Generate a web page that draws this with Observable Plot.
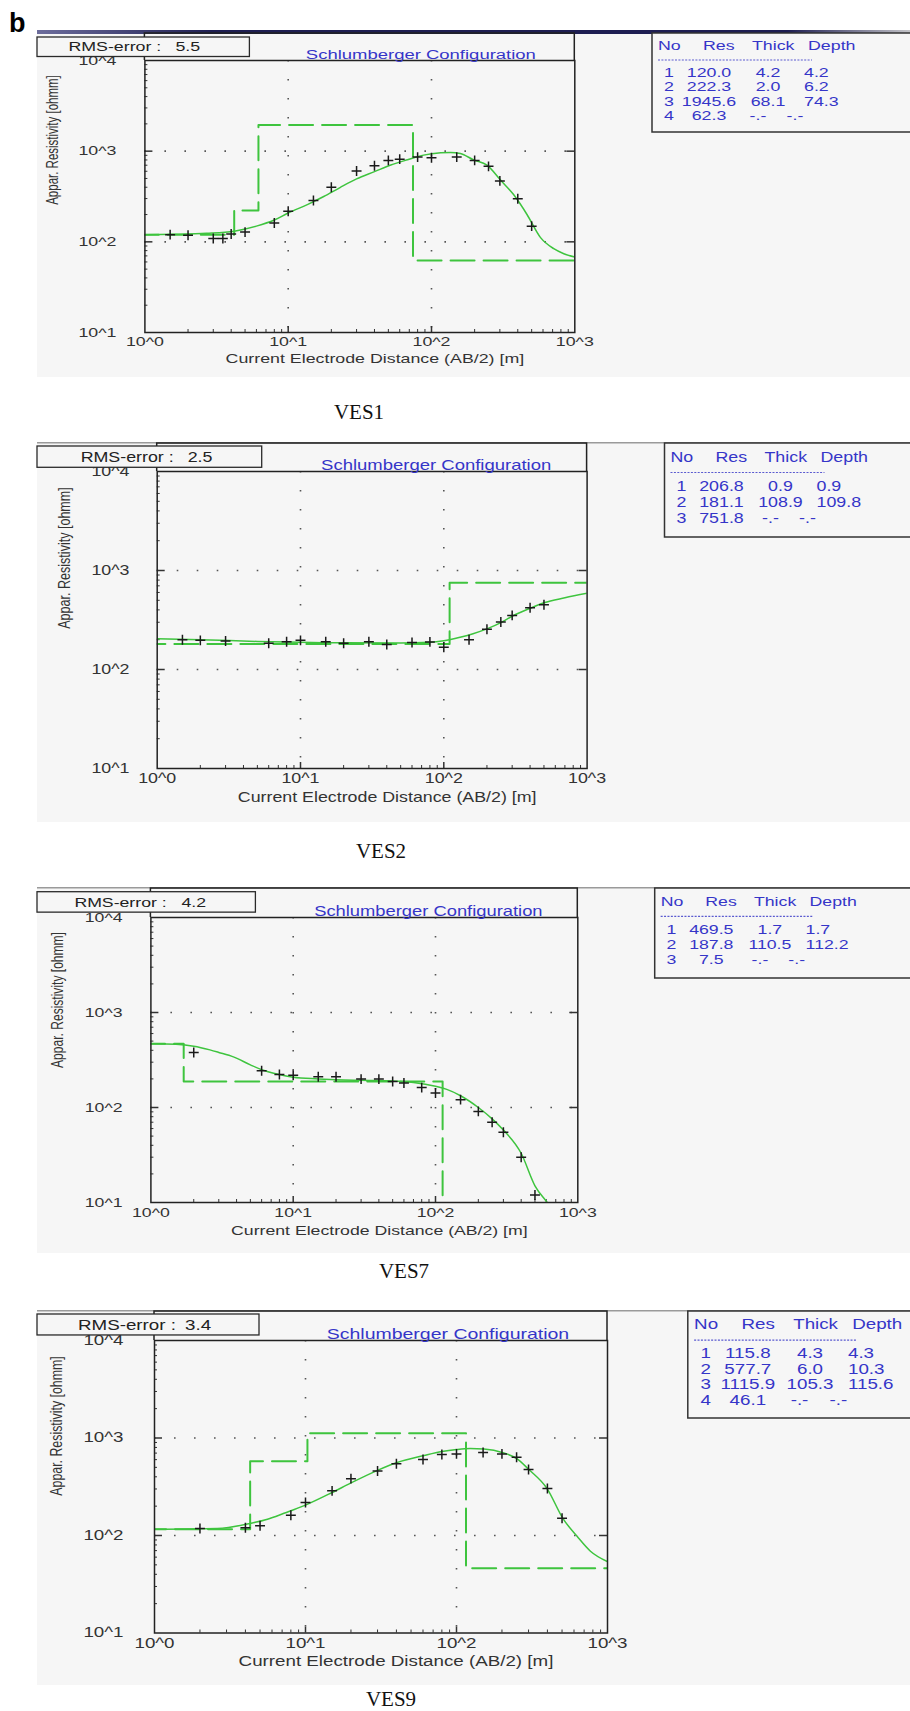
<!DOCTYPE html>
<html><head><meta charset="utf-8">
<script src="https://cdn.jsdelivr.net/npm/d3@7"></script>
<script src="https://cdn.jsdelivr.net/npm/@observablehq/plot@0.6"></script>
<style>
html,body{margin:0;padding:0;background:#fff;}
#page{position:relative;width:910px;height:1711px;overflow:hidden;font-family:"Liberation Sans",Arial,sans-serif;}
.layer{position:absolute;left:0;top:0;}
</style></head><body><div id="page"></div>
<script>
// ---------- shared labels ----------
const xTicks = [1, 10, 100, 1000];
const xTickLabels = ["10^0", "10^1", "10^2", "10^3"];
const yTicks = [10, 100, 1000, 10000];
const yTickLabels = ["10^1", "10^2", "10^3", "10^4"];
const xTitle = "Current Electrode Distance (AB/2) [m]";
const yTitle = "Appar. Resistivity [ohmm]";
const chartTitle = "Schlumberger Configuration";
const tableHeader = ["No", "Res", "Thick", "Depth"];
const figureLetter = "b";

// ---------- VES1 ----------
const ves1Name = "VES1";
const ves1Rms = "5.5";
const ves1Res = [120.0, 222.3, 1945.6, 62.3];
const ves1Thick = [4.2, 2.0, 68.1];
const ves1Depth = [4.2, 6.2, 74.3];
const ves1ObsX = [1.5, 2, 3, 3.5, 4, 5, 8, 10, 15, 20, 30, 40, 50, 60, 80, 100, 150, 200, 250, 300, 400, 500];
const ves1ObsY = [120, 118, 109, 109, 122, 128, 161, 217, 286, 400, 604, 690, 791, 817, 860, 845, 860, 791, 680, 470, 298, 149];
const ves1FitX = [1, 1.6, 2.7, 4.2, 6, 8, 10, 13.6, 17.7, 23, 30, 40, 52, 68, 88, 116, 136, 159, 197, 244, 303, 375, 465, 575, 713, 838, 1000];
const ves1FitY = [120, 121, 124, 131, 149, 174, 208, 257, 316, 397, 494, 594, 703, 804, 904, 959, 967, 942, 800, 700, 480, 330, 199, 112, 84, 74, 68];

// ---------- VES2 ----------
const ves2Name = "VES2";
const ves2Rms = "2.5";
const ves2Res = [206.8, 181.1, 751.8];
const ves2Thick = [0.9, 108.9];
const ves2Depth = [0.9, 109.8];
const ves2ObsX = [1.5, 2, 3, 6, 8, 10, 15, 20, 30, 40, 60, 80, 100, 150, 200, 250, 300, 400, 500];
const ves2ObsY = [200, 197, 194, 184, 191, 197, 191, 184, 191, 179, 187, 190, 168, 200, 255, 302, 352, 421, 451];
const ves2FitX = [1, 2, 5, 10, 20, 50, 80, 100, 130, 160, 200, 250, 300, 400, 500, 700, 1000];
const ves2FitY = [204, 200, 192, 188, 186, 185, 188, 195, 212, 230, 257, 297, 345, 415, 472, 530, 588];

// ---------- VES7 ----------
const ves7Name = "VES7";
const ves7Rms = "4.2";
const ves7Res = [469.5, 187.8, 7.5];
const ves7Thick = [1.7, 110.5];
const ves7Depth = [1.7, 112.2];
const ves7ObsX = [2, 6, 8, 10, 15, 20, 30, 40, 50, 60, 80, 100, 150, 200, 250, 300, 400, 500];
const ves7ObsY = [379, 244, 223, 219, 211, 211, 199, 199, 188, 181, 162, 142, 121, 91, 70, 55, 30, 12];
const ves7FitX = [1, 1.5, 2, 2.6, 3, 3.8, 5, 6, 8, 10, 15, 20, 30, 50, 70, 100, 120, 150, 200, 250, 300, 400, 500, 610, 680];
const ves7FitY = [468, 462, 442, 404, 380, 341, 281, 250, 222, 208, 200, 196, 193, 190, 183, 167, 155, 133, 100, 76, 58, 33, 15, 10, 8];

// ---------- VES9 ----------
const ves9Name = "VES9";
const ves9Rms = "3.4";
const ves9Res = [115.8, 577.7, 1115.9, 46.1];
const ves9Thick = [4.3, 6.0, 105.3];
const ves9Depth = [4.3, 10.3, 115.6];
const ves9ObsX = [2, 4, 5, 8, 10, 15, 20, 30, 40, 60, 80, 100, 150, 200, 250, 300, 400, 500];
const ves9ObsY = [118, 120, 126, 161, 218, 287, 383, 458, 545, 603, 678, 687, 709, 687, 635, 476, 303, 150];
const ves9FitX = [1, 2.6, 4.3, 5.6, 7.2, 10, 15, 20, 30, 40, 61, 80, 100, 123, 152, 206, 252, 301, 398, 506, 629, 771, 1000];
const ves9FitY = [116, 118, 133, 147, 169, 205, 276, 346, 466, 557, 661, 726, 761, 779, 773, 703, 611, 476, 303, 150, 98, 69, 54];

// ---------- layout (pixels) ----------
const layout = [
  {bgTop:31, bgBottom:377, outerTop:33, y4:60, y1:332, xL:144.4, xR:574.3, tabL:652, tabT:33, tabB:132, rmsTop:37, labelGap:28.4, ytx:52, yty:140, titleDx:61, vesX:359, vesY:419, bar:true},
  {bgTop:442, bgBottom:822, outerTop:443, y4:471, y1:768, xL:156.7, xR:586.6, tabL:664.5, tabT:443, tabB:537, rmsTop:446, labelGap:27.7, ytx:64, yty:558, titleDx:64, vesX:381, vesY:858},
  {bgTop:887, bgBottom:1253, outerTop:888, y4:917, y1:1202, xL:150.4, xR:577.3, tabL:654.7, tabT:888, tabB:978, rmsTop:891.7, labelGap:28.4, ytx:58, yty:1000, titleDx:64, vesX:404, vesY:1278},
  {bgTop:1310, bgBottom:1685, outerTop:1311, y4:1340, y1:1632.5, xL:154, xR:607, tabL:687.8, tabT:1311, tabB:1418, rmsTop:1314, labelGap:31, ytx:56, yty:1426, titleDx:67, vesX:391, vesY:1706}
];

const panels = [
  {name: ves1Name, rms: ves1Rms, res: ves1Res, thick: ves1Thick, depth: ves1Depth, obsX: ves1ObsX, obsY: ves1ObsY, fitX: ves1FitX, fitY: ves1FitY},
  {name: ves2Name, rms: ves2Rms, res: ves2Res, thick: ves2Thick, depth: ves2Depth, obsX: ves2ObsX, obsY: ves2ObsY, fitX: ves2FitX, fitY: ves2FitY},
  {name: ves7Name, rms: ves7Rms, res: ves7Res, thick: ves7Thick, depth: ves7Depth, obsX: ves7ObsX, obsY: ves7ObsY, fitX: ves7FitX, fitY: ves7FitY},
  {name: ves9Name, rms: ves9Rms, res: ves9Res, thick: ves9Thick, depth: ves9Depth, obsX: ves9ObsX, obsY: ves9ObsY, fitX: ves9FitX, fitY: ves9FitY}
];

const BG = "#f6f6f6";
const GREEN = "#3ec43e";
const BLUE = "#3535c8";
const FONT = "'Liberation Sans', Arial, sans-serif";

const yMinor = [];
[10, 100, 1000].forEach(d => { for (let k = 2; k <= 9; k++) yMinor.push(d * k); });
const xMinor = [];
[1, 10, 100].forEach(d => { for (let k = 2; k <= 9; k++) xMinor.push(d * k); });

function stretchTexts(root, st) {
  root.querySelectorAll("text").forEach(t => {
    if ((t.getAttribute("transform") || "").includes("rotate")) return;
    if (t.getAttribute("data-nostretch")) return;
    const L = t.getComputedTextLength();
    if (L > 0) {
      t.setAttribute("textLength", (L * st).toFixed(2));
      t.setAttribute("lengthAdjust", "spacingAndGlyphs");
    }
  });
}

const page = d3.select("#page");
const under = page.append("svg").attr("class", "layer").attr("width", 910).attr("height", 1711).style("z-index", 0);
const over = page.append("svg").attr("class", "layer").attr("width", 910).attr("height", 1711).style("z-index", 2).style("font-family", FONT);

const defs = under.append("defs");
const grad = defs.append("linearGradient").attr("id", "barGrad").attr("x1", "0").attr("x2", "1").attr("y1", "0").attr("y2", "0");
grad.append("stop").attr("offset", "0").attr("stop-color", "#6d6d9c");
grad.append("stop").attr("offset", "0.2").attr("stop-color", "#1e1e52");
grad.append("stop").attr("offset", "0.86").attr("stop-color", "#1e1e52");
grad.append("stop").attr("offset", "1").attr("stop-color", "#c4c4c8");

over.append("text").attr("x", 9).attr("y", 32).attr("font-size", 27).attr("font-weight", "bold")
  .attr("fill", "#000").attr("data-nostretch", 1).text(figureLetter);

panels.forEach((d, pi) => {
  const g = layout[pi];
  const decY = (g.y1 - g.y4) / 3;
  const decX = (g.xR - g.xL) / 3;
  const vs = decY / 90.67;
  const hx = decX / 143.3;
  const st = 1.37 * hx / vs;
  const fs = 13 * vs;

  under.append("rect").attr("x", 37).attr("y", g.bgTop).attr("width", 873).attr("height", g.bgBottom - g.bgTop).attr("fill", BG);
  if (g.bar) {
    under.append("rect").attr("x", 37).attr("y", g.bgTop - 1).attr("width", 873).attr("height", 4).attr("fill", "url(#barGrad)");
  } else {
    under.append("rect").attr("x", 37).attr("y", g.bgTop).attr("width", 873).attr("height", 1.5).attr("fill", "#9a9a9a");
  }

  const obs = d.obsX.map((x, i) => ({x, y: d.obsY[i]}));
  const fit = d.fitX.map((x, i) => ({x, y: d.fitY[i]}));
  const stepX = [0.5, ...d.depth, 3000];
  const stepY = [...d.res, d.res[d.res.length - 1]];
  const model = stepX.map((x, i) => ({x, y: stepY[i]}));

  const W = Math.round(g.xR + 45);
  const H = g.bgBottom - g.bgTop;
  const pw = g.xR - g.xL, ph = g.y1 - g.y4;

  const svg = Plot.plot({
    width: W, height: H,
    marginLeft: g.xL, marginRight: W - g.xR,
    marginTop: g.y4 - g.bgTop, marginBottom: g.bgBottom - g.y1,
    x: {type: "log", domain: [1, 1000], axis: null},
    y: {type: "log", domain: [10, 10000], axis: null},
    style: {background: "transparent", overflow: "visible", fontFamily: FONT, fontSize: fs + "px"},
    marks: [
      Plot.ruleX([10, 100], {stroke: "#555", strokeWidth: 1.6, strokeDasharray: "1.6,17.4"}),
      Plot.ruleY([100, 1000], {stroke: "#555", strokeWidth: 1.6, strokeDasharray: "1.6,18.4"}),
      Plot.ruleY(yMinor, {stroke: "#333", strokeWidth: 1, insetRight: pw - 3}),
      Plot.ruleY([100, 1000], {stroke: "#333", strokeWidth: 1.5, insetRight: pw - 8}),
      Plot.ruleY([100, 1000], {stroke: "#333", strokeWidth: 1.5, insetLeft: pw - 8}),
      Plot.ruleX(xMinor, {stroke: "#333", strokeWidth: 1, insetTop: ph - 3}),
      Plot.ruleX([10, 100], {stroke: "#333", strokeWidth: 1.5, insetTop: ph - 6}),
      Plot.line(model, {x: "x", y: "y", curve: "step-after", stroke: GREEN, strokeWidth: 2, strokeDasharray: "24,9", clip: true}),
      Plot.line(fit, {x: "x", y: "y", curve: "monotone-x", stroke: GREEN, strokeWidth: 1.5, clip: true}),
      Plot.dot(obs, {x: "x", y: "y", symbol: "plus", r: 3.3, stroke: "#1a1a1a", strokeWidth: 1.5}),
      Plot.frame({stroke: "#222", strokeWidth: 1.5}),
      Plot.text(xTicks, {x: v => v, text: (v, i) => xTickLabels[i], frameAnchor: "bottom", dy: 13.5 * vs, fill: "#333", fontSize: fs}),
      Plot.text(yTicks, {y: v => v, text: (v, i) => yTickLabels[i], frameAnchor: "left", dx: -g.labelGap, textAnchor: "end", fill: "#333", fontSize: fs}),
      Plot.text([xTitle], {frameAnchor: "bottom", dy: 31 * vs, dx: 15, fill: "#333", fontSize: fs}),
      Plot.text([chartTitle], {frameAnchor: "top", dx: g.titleDx, dy: -1.8, lineAnchor: "bottom", fill: BLUE, fontSize: 13.5 * vs})
    ]
  });
  svg.style.position = "absolute";
  svg.style.left = "0px";
  svg.style.top = g.bgTop + "px";
  svg.style.zIndex = 1;
  page.node().appendChild(svg);
  stretchTexts(svg, st);

  const og = over.append("g");
  og.append("text").attr("transform", `translate(${g.ytx},${g.yty}) rotate(-90) scale(1,${st.toFixed(3)})`)
    .attr("text-anchor", "middle").attr("dy", "0.35em").attr("font-size", 11.5 * vs).attr("fill", "#333").text(yTitle);

  og.append("path").attr("d", `M${g.xL},${g.y4}V${g.outerTop}H${g.xR}V${g.y4}`)
    .attr("fill", "none").attr("stroke", "#222").attr("stroke-width", 1.5);

  og.append("rect").attr("x", 37).attr("y", g.rmsTop).attr("width", g.xL + 105 - 37).attr("height", 19.5 * vs)
    .attr("fill", BG).attr("stroke", "#2a2a2a").attr("stroke-width", 1.3);
  og.append("text").attr("x", g.xL - 76).attr("y", g.rmsTop + 14.5 * vs).attr("font-size", fs).attr("fill", "#222").text("RMS-error :");
  og.append("text").attr("x", g.xL + 31).attr("y", g.rmsTop + 14.5 * vs).attr("font-size", fs).attr("fill", "#222").text(d.rms);

  const L = g.tabL, T = g.tabT, B = g.tabB;
  og.append("rect").attr("x", L).attr("y", T).attr("width", 915 - L).attr("height", B - T).attr("fill", BG);
  og.append("path").attr("d", `M915,${T}H${L}V${B}H915`).attr("fill", "none").attr("stroke", "#333").attr("stroke-width", 1.5);
  const hdrX = [6, 51, 100, 156];
  tableHeader.forEach((h, i) => {
    og.append("text").attr("x", L + hdrX[i] * hx).attr("y", T + 17 * vs).attr("font-size", fs).attr("fill", BLUE).text(h);
  });
  og.append("line").attr("x1", L + 6 * hx).attr("x2", L + 160 * hx).attr("y1", T + 27 * vs).attr("y2", T + 27 * vs)
    .attr("stroke", "#5a5ad0").attr("stroke-width", 1.2).attr("stroke-dasharray", "2,1.4");
  const n = d.res.length;
  d.res.forEach((r, i) => {
    const yb = T + (44 + 14.5 * i) * vs;
    const last = i === n - 1;
    og.append("text").attr("x", L + 12 * hx).attr("y", yb).attr("font-size", fs).attr("fill", BLUE).text(String(i + 1));
    og.append("text").attr("x", L + 57 * hx).attr("y", yb).attr("font-size", fs).attr("fill", BLUE).attr("text-anchor", "middle").text(r.toFixed(1));
    if (!last) {
      og.append("text").attr("x", L + 116 * hx).attr("y", yb).attr("font-size", fs).attr("fill", BLUE).attr("text-anchor", "middle").text(d.thick[i].toFixed(1));
      og.append("text").attr("x", L + 152 * hx).attr("y", yb).attr("font-size", fs).attr("fill", BLUE).text(d.depth[i].toFixed(1));
    } else {
      og.append("text").attr("x", L + 106 * hx).attr("y", yb).attr("font-size", fs).attr("fill", BLUE).attr("text-anchor", "middle").text("-.-");
      og.append("text").attr("x", L + 143 * hx).attr("y", yb).attr("font-size", fs).attr("fill", BLUE).attr("text-anchor", "middle").text("-.-");
    }
  });
  stretchTexts(og.node(), st);

  over.append("text").attr("x", g.vesX).attr("y", g.vesY).attr("font-size", 21).attr("text-anchor", "middle")
    .attr("font-family", "'Liberation Serif', 'Times New Roman', serif").attr("fill", "#111").text(d.name);
});
</script></body></html>
